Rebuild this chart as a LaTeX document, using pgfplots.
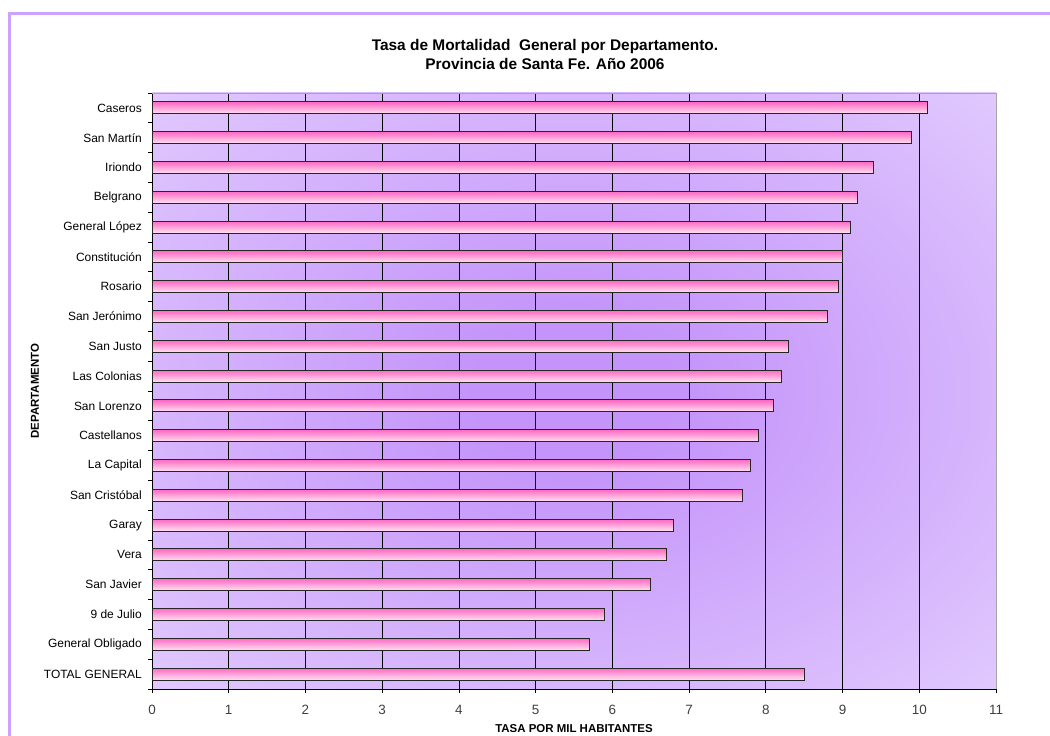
\documentclass[border=0pt]{standalone}
\usepackage{pgfplots}
\pgfplotsset{compat=1.18}
\usepackage{fontspec}
\setmainfont{Liberation Sans}
\definecolor{bgedge}{RGB}{233,216,255}
\definecolor{bgcenter}{RGB}{196,148,250}
\definecolor{pinkdark}{RGB}{255,105,195}
\definecolor{pinklight}{RGB}{255,226,242}
\definecolor{framec}{RGB}{204,162,255}
\pgfdeclareradialshading{plotbg}{\pgfpoint{0bp}{0bp}}{color(0bp)=(bgcenter); color(6bp)=(bgcenter); color(44bp)=(bgedge); color(60bp)=(bgedge)}
\pgfplotsset{barst/.style={xbar, bar shift=0pt, bar width=0.4, draw=black!85, line width=0.9bp, top color=pinkdark, bottom color=pinklight}}
\begin{document}
\begin{tikzpicture}
\path[use as bounding box, fill=white] (0,0) rectangle (1050bp,736bp);
\draw[framec, line width=3bp] (9.5bp,-5bp) -- (9.5bp,722.5bp) -- (1055bp,722.5bp);
\begin{axis}[
  at={(152bp,47bp)}, anchor=south west, scale only axis,
  width=844bp, height=596bp,
  xmin=0, xmax=11, ymin=-0.5, ymax=19.5,
  axis x line*=bottom, axis y line*=left,
  axis line style={black, line width=0.8bp},
  axis background/.style={shading=plotbg},
  xtick={0,...,11},
  ytick={-0.5,0.5,...,19.5},
  yticklabels={},
  extra y ticks={0,...,19},
  extra y tick labels={TOTAL GENERAL,General Obligado,9 de Julio,San Javier,Vera,Garay,San Cristóbal,La Capital,Castellanos,San Lorenzo,Las Colonias,San Justo,San Jerónimo,Rosario,Constitución,General López,Belgrano,Iriondo,San Martín,Caseros},
  extra y tick style={major tick length=0pt, yticklabel style={inner sep=0pt, xshift=-10bp, anchor=east}},
  tick align=outside, major tick length=4bp,
  tick style={black, line width=0.8bp},
  xmajorgrids, grid style={black, line width=0.8bp},
  tick label style={font=\fontsize{12}{14}\selectfont},
  xticklabel style={font=\fontsize{13.5}{15}\selectfont, inner sep=0pt, yshift=-12bp, text=black!75},
  /pgf/number format/assume math mode=true,
  xlabel={TASA POR MIL HABITANTES},
  ylabel={DEPARTAMENTO},
  every axis x label/.style={at={(axis description cs:0.5,0)}, anchor=center, yshift=-40bp, font=\bfseries\fontsize{11.5}{13}\selectfont},
  every axis y label/.style={at={(axis description cs:0,0.5)}, anchor=center, xshift=-117bp, rotate=90, font=\bfseries\fontsize{11.5}{13}\selectfont},
  title={Tasa de Mortalidad\ \ General por Departamento.\\Provincia de Santa Fe. Año 2006},
  title style={at={(axis description cs:0.4656,1)}, anchor=center, yshift=33bp, align=center, font=\bfseries\fontsize{15.5}{19}\selectfont},
  clip=false,
]
\addplot[barst] coordinates {(8.5,0)};
\addplot[barst] coordinates {(5.7,1)};
\addplot[barst] coordinates {(5.9,2)};
\addplot[barst] coordinates {(6.5,3)};
\addplot[barst] coordinates {(6.7,4)};
\addplot[barst] coordinates {(6.8,5)};
\addplot[barst] coordinates {(7.7,6)};
\addplot[barst] coordinates {(7.8,7)};
\addplot[barst] coordinates {(7.9,8)};
\addplot[barst] coordinates {(8.1,9)};
\addplot[barst] coordinates {(8.2,10)};
\addplot[barst] coordinates {(8.3,11)};
\addplot[barst] coordinates {(8.8,12)};
\addplot[barst] coordinates {(8.95,13)};
\addplot[barst] coordinates {(9.0,14)};
\addplot[barst] coordinates {(9.1,15)};
\addplot[barst] coordinates {(9.2,16)};
\addplot[barst] coordinates {(9.4,17)};
\addplot[barst] coordinates {(9.9,18)};
\addplot[barst] coordinates {(10.1,19)};
\draw[gray!70, line width=0.8bp] (rel axis cs:0,1) -- (rel axis cs:1,1) -- (rel axis cs:1,0);
\end{axis}
\end{tikzpicture}
\end{document}
